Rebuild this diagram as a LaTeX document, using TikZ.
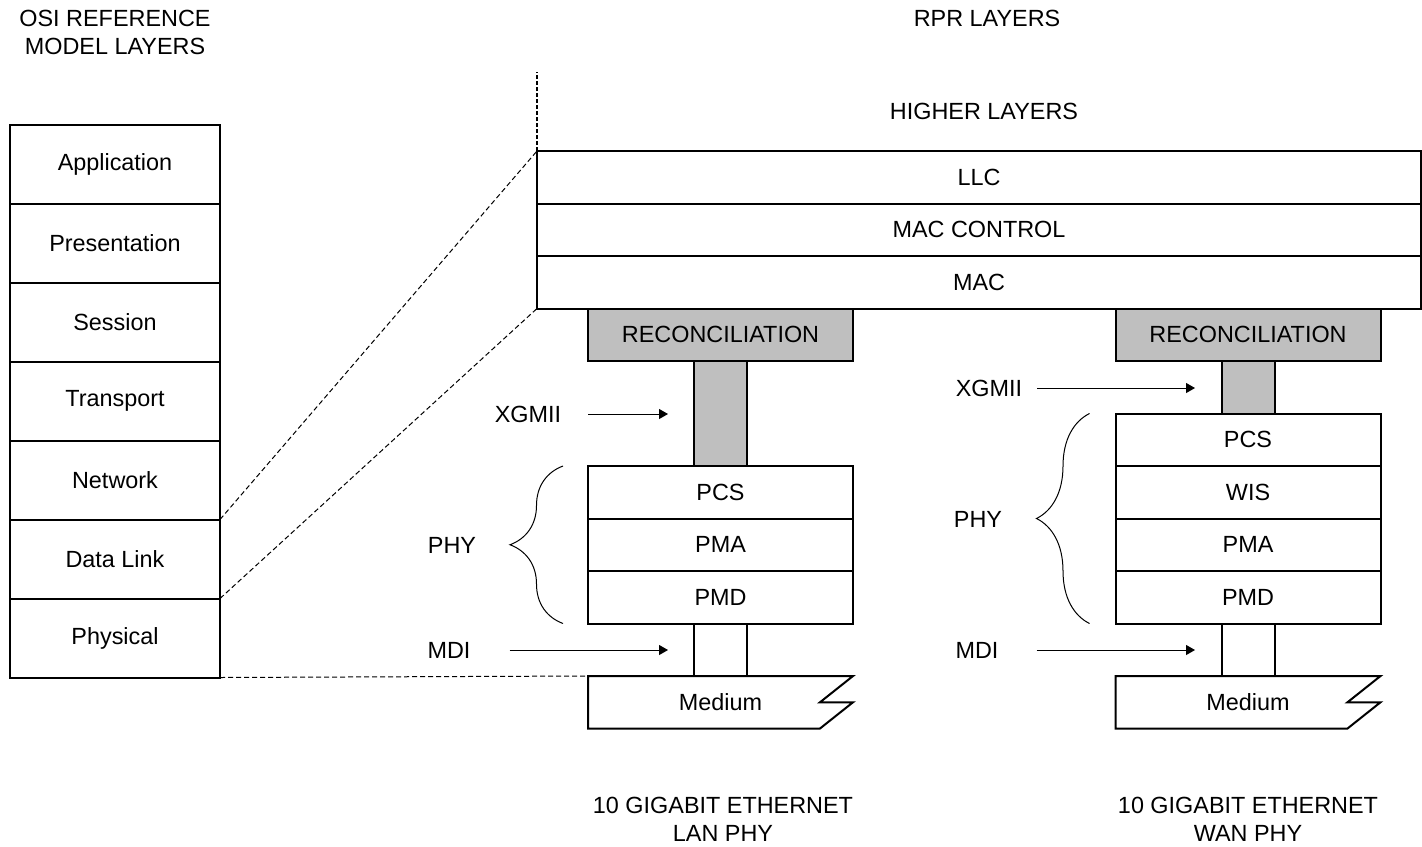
\documentclass[tikz,border=0pt]{standalone}
\usepackage{fontspec}
\setmainfont{Liberation Sans}
\usepackage{tikz}
\usetikzlibrary{positioning,arrows.meta,decorations.pathreplacing}

\begin{document}
\begin{tikzpicture}[x=0.5pt,y=-0.5pt,>={Triangle[length=4.5pt,width=5pt]},
  font=\fontsize{11.7}{14}\selectfont,
  osi/.style={draw,line width=1pt,outer sep=0pt,minimum width=105pt,minimum height=39.5pt},
  rpr/.style={draw,line width=1pt,outer sep=0pt,minimum width=442pt,minimum height=26.25pt},
  lay/.style={draw,line width=1pt,outer sep=0pt,minimum width=132.5pt,minimum height=26.25pt},
  recon/.style={lay,fill=gray!50},
  link/.style={draw,line width=1pt,outer sep=0pt,inner sep=0pt,minimum width=26.5pt},
  zoomline/.style={line width=0.5pt,dash pattern=on 2.5pt off 1.5pt},
  brc/.style={decorate,decoration={brace,amplitude=26.5pt},line width=0.5pt}]
  \useasboundingbox (0,0) rectangle (1422,846);
  % titles
  \node[align=center] (osiT) at (115,32) {OSI REFERENCE\\MODEL LAYERS};
  \node (rprT) at (987,18) {RPR LAYERS};
  \node (hl) at (984,111) {HIGHER LAYERS};
  % osi stack
  \node[osi] (app) at (115,164) {Application};
  \node[osi,below=0pt of app] (pres) {Presentation};
  \node[osi,below=0pt of pres] (sess) {Session};
  \node[osi,below=0pt of sess] (trans) {Transport};
  \node[osi,below=0pt of trans] (net) {Network};
  \node[osi,below=0pt of net] (dl) {Data Link};
  \node[osi,below=0pt of dl] (phys) {Physical};
  % rpr stack
  \node[rpr] (llc) at (979,177.25) {LLC};
  \node[rpr,below=0pt of llc] (macc) {MAC CONTROL};
  \node[rpr,below=0pt of macc] (mac) {MAC};
  % lan phy
  \node[recon] (recL) at (720.5,334.75) {RECONCILIATION};
  \node[link,fill=gray!50,minimum height=52.5pt,below=0pt of recL] (xL) {};
  \node[lay,below=0pt of xL] (pcsL) {PCS};
  \node[lay,below=0pt of pcsL] (pmaL) {PMA};
  \node[lay,below=0pt of pmaL] (pmdL) {PMD};
  \node[link,minimum height=26.25pt,below=0pt of pmdL] (mdiL) {};
  \node[lay,draw=none,below=0pt of mdiL] (medL) {Medium};
  \draw[line width=1pt] (medL.north west) -- (medL.north east) -- ++(-33,26.25)
    -- ++(33,0) -- ++(-33,26.25) -- (medL.south west) -- cycle;
  % wan phy
  \node[recon] (recW) at (1248,334.75) {RECONCILIATION};
  \node[link,fill=gray!50,minimum height=26.25pt,below=0pt of recW] (xW) {};
  \node[lay,below=0pt of xW] (pcsW) {PCS};
  \node[lay,below=0pt of pcsW] (wisW) {WIS};
  \node[lay,below=0pt of wisW] (pmaW) {PMA};
  \node[lay,below=0pt of pmaW] (pmdW) {PMD};
  \node[link,minimum height=26.25pt,below=0pt of pmdW] (mdiW) {};
  \node[lay,draw=none,below=0pt of mdiW] (medW) {Medium};
  \draw[line width=1pt] (medW.north west) -- (medW.north east) -- ++(-33,26.25)
    -- ++(33,0) -- ++(-33,26.25) -- (medW.south west) -- cycle;
  % interface labels
  \node (xgL) at (528,414) {XGMII};
  \node (phyL) at (452,545) {PHY};
  \node (mdL) at (449,650) {MDI};
  \node (xgW) at (989,388) {XGMII};
  \node (phyW) at (978,519) {PHY};
  \node (mdW) at (977,650) {MDI};
  \coordinate (xgLe) at (668,414);
  \coordinate (mdLe) at (668,650);
  \coordinate (xgWe) at (1195,388);
  \coordinate (mdWe) at (1195,650);
  \draw[->,line width=0.5pt] ([xshift=10pt]xgL.east) -- (xgLe);
  \draw[->,line width=0.5pt] ([xshift=16pt]mdL.east) -- (mdLe);
  \draw[->,line width=0.5pt] ([xshift=4pt]xgW.east) -- (xgWe);
  \draw[->,line width=0.5pt] ([xshift=15.5pt]mdW.east) -- (mdWe);
  \draw[brc] ([xshift=-12.5pt]pmdL.south west) -- ([xshift=-12.5pt]pcsL.north west);
  \draw[brc] ([xshift=-13pt]pmdW.south west) -- ([xshift=-13pt]pcsW.north west);
  % zoom lines
  \draw[zoomline] (dl.north east) -- (llc.north west);
  \draw[zoomline] (phys.north east) -- (mac.south west);
  \draw[zoomline] (phys.south east) -- (medL.north west);
  \draw[line width=0.7pt,dash pattern=on 2pt off 1pt] (llc.north west) -- ++(0,-79);
  % bottom titles
  \node[align=center] (lanT) at (723,819) {10 GIGABIT ETHERNET\\LAN PHY};
  \node[align=center] (wanT) at (1248,819) {10 GIGABIT ETHERNET\\WAN PHY};
\end{tikzpicture}
\end{document}
